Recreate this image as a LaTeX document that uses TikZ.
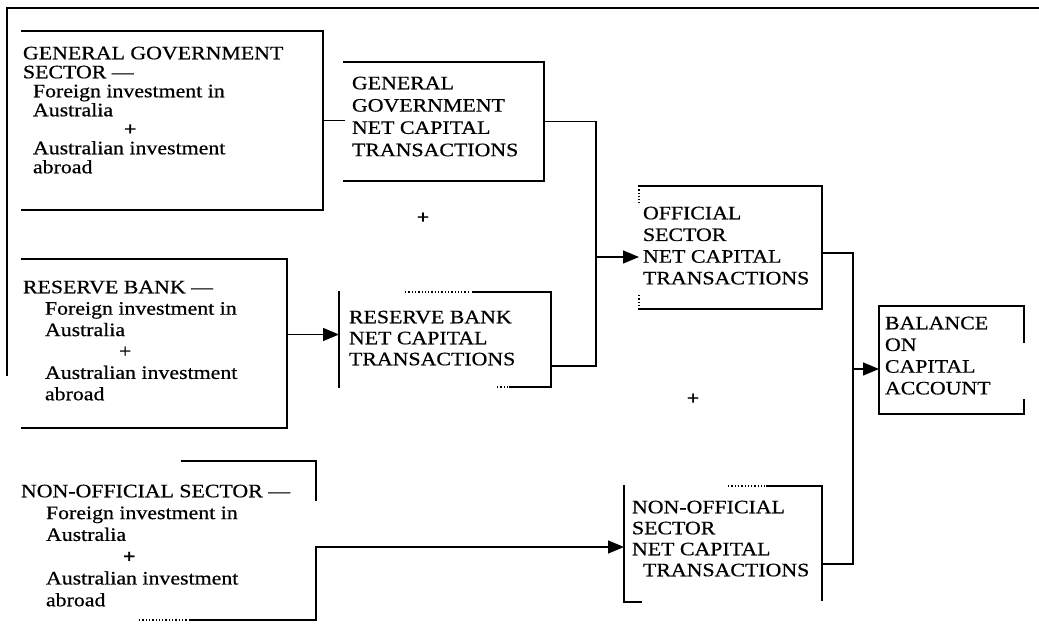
\documentclass[tikz,border=0pt]{standalone}
\usepackage{fontspec}
\setmainfont{Liberation Serif}[FakeStretch=1.15,FakeBold=0.6]
\usetikzlibrary{arrows.meta}
\begin{document}
\begin{tikzpicture}[x=1pt,y=-1pt,
  ln/.style={line width=1.3pt, line cap=rect},
  dln/.style={line width=1.3pt, dotted},
  arr/.style={line width=1.3pt, -{Triangle[length=16pt,width=13pt]}},
  box/.style={draw=none, inner sep=0pt, outer sep=0pt, anchor=north west},
  txt/.style={inner sep=0pt, outer sep=0pt, anchor=north west, align=left, font=\fontsize{19}{#1}\selectfont},
  plus/.style={inner sep=0pt, outer sep=0pt, font=\fontsize{19}{19}\selectfont\bfseries},
]
\useasboundingbox[fill=white] (0,0) rectangle (1039,631);
% outer frame
\draw[ln] (1039,8) -- (7,8) -- (7,375);
% boxes
\node[box, minimum width=301pt, minimum height=179pt] (gg)   at (22,31)  {};
\node[box, minimum width=200pt, minimum height=119pt] (ggn)  at (344,62) {};
\node[box, minimum width=265pt, minimum height=169pt] (rb)   at (22,259) {};
\node[box, minimum width=212pt, minimum height=95pt]  (rbn)  at (339,292) {};
\node[box, minimum width=183pt, minimum height=123pt] (off)  at (639,186) {};
\node[box, minimum width=145pt, minimum height=108pt] (bal)  at (879,306) {};
\node[box, minimum width=296pt, minimum height=159pt] (nof)  at (20,461) {};
\node[box, minimum width=198pt, minimum height=115pt] (nofn) at (624,486) {};
% texts
\node[txt=19] (ggt) at (23,46.7) {GENERAL GOVERNMENT\\SECTOR —\\\hspace*{10pt}Foreign investment in\\\hspace*{10pt}Australia\\\hspace*{101pt}\textbf{+}\\\hspace*{10pt}Australian investment\\\hspace*{10pt}abroad};
\node[txt=22.3] (ggnt) at (352,76.7) {GENERAL\\GOVERNMENT\\NET CAPITAL\\TRANSACTIONS};
\node[txt=21.4] (rbt) at (23,280.7) {RESERVE BANK —\\\hspace*{22pt}Foreign investment in\\\hspace*{22pt}Australia\\\hspace*{96pt}+\\\hspace*{22pt}Australian investment\\\hspace*{22pt}abroad};
\node[txt=21] (rbnt) at (349,310.7) {RESERVE BANK\\NET CAPITAL\\TRANSACTIONS};
\node[txt=21.7] (offt) at (643,206.7) {OFFICIAL\\SECTOR\\NET CAPITAL\\TRANSACTIONS};
\node[txt=21.7] (balt) at (885,316.7) {BALANCE\\ON\\CAPITAL\\ACCOUNT};
\node[txt=21.8] (noft) at (21,484.7) {NON-OFFICIAL SECTOR —\\\hspace*{25pt}Foreign investment in\\\hspace*{25pt}Australia\\\hspace*{102pt}\textbf{+}\\\hspace*{25pt}Australian investment\\\hspace*{25pt}abroad};
\node[txt=21] (nofnt) at (632,500.7) {NON-OFFICIAL\\SECTOR\\NET CAPITAL\\\hspace*{11pt}TRANSACTIONS};
\node[plus] (plus1) at (423,218) {+};
\node[plus] (plus2) at (693,399) {+};
% box outlines (as printed, some sides missing)
\draw[ln] (gg.north west) -- (gg.north east) -- (gg.south east) -- (gg.south west);
\draw[ln] (ggn.north west) -- (ggn.north east) -- (ggn.south east) -- (ggn.south west);
\draw[ln] (rb.north west) -- (rb.north east) -- (rb.south east) -- (rb.south west);
\draw[ln] (473,292) -- (rbn.north east) -- (rbn.south east) -- (510,387);
\draw[ln] (rbn.north west) -- (rbn.south west);
\draw[dln] (405,292) -- (470,292);
\draw[dln] (497,387) -- (508,387);
\draw[ln] (off.north west) -- (off.north east) -- (off.south east) -- (off.south west);
\draw[dln] (639,186) -- (639,203);
\draw[dln] (639,295) -- (639,309);
\draw[ln] (1024,342) -- (bal.north east) -- (bal.north west) -- (bal.south west) -- (bal.south east) -- (1024,400);
\draw[ln] (182,461) -- (nof.north east) -- (316,500);
\draw[ln] (316,547) -- (nof.south east) -- (190,620);
\draw[dln] (139,620) -- (188,620);
\draw[ln] (641,602) -- (624,602) -- (nofn.north west);
\draw[ln] (767,486) -- (nofn.north east) -- (822,600);
\draw[dln] (728,486) -- (765,486);
% connectors
\coordinate (j1) at (596,0);
\coordinate (j2) at (853,0);
\coordinate (rbnL) at ([yshift=5pt]rbn.west);
\coordinate (rbnR) at ([yshift=-26.5pt]rbn.east);
\coordinate (offL) at ([yshift=-9.5pt]off.west);
\coordinate (offR) at ([yshift=-5.5pt]off.east);
\coordinate (balL) at ([yshift=-9pt]bal.west);
\coordinate (nofnL) at ([yshift=-3.5pt]nofn.west);
\coordinate (nofnR) at ([yshift=-20.5pt]nofn.east);
\draw[ln] (gg.east) -- (gg.east -| ggn.west);
\draw[ln] (ggn.east) -| (j1 |- rbnR) -- (rbnR);
\draw[arr] (j1 |- offL) -- (offL);
\draw[arr] (rb.east |- rbnL) -- (rbnL);
\draw[ln] (offR) -| (j2 |- nofnR) -- (nofnR);
\draw[arr] (j2 |- balL) -- (balL);
\draw[arr] (nof.east |- nofnL) -- (nofnL);
\end{tikzpicture}
\end{document}
